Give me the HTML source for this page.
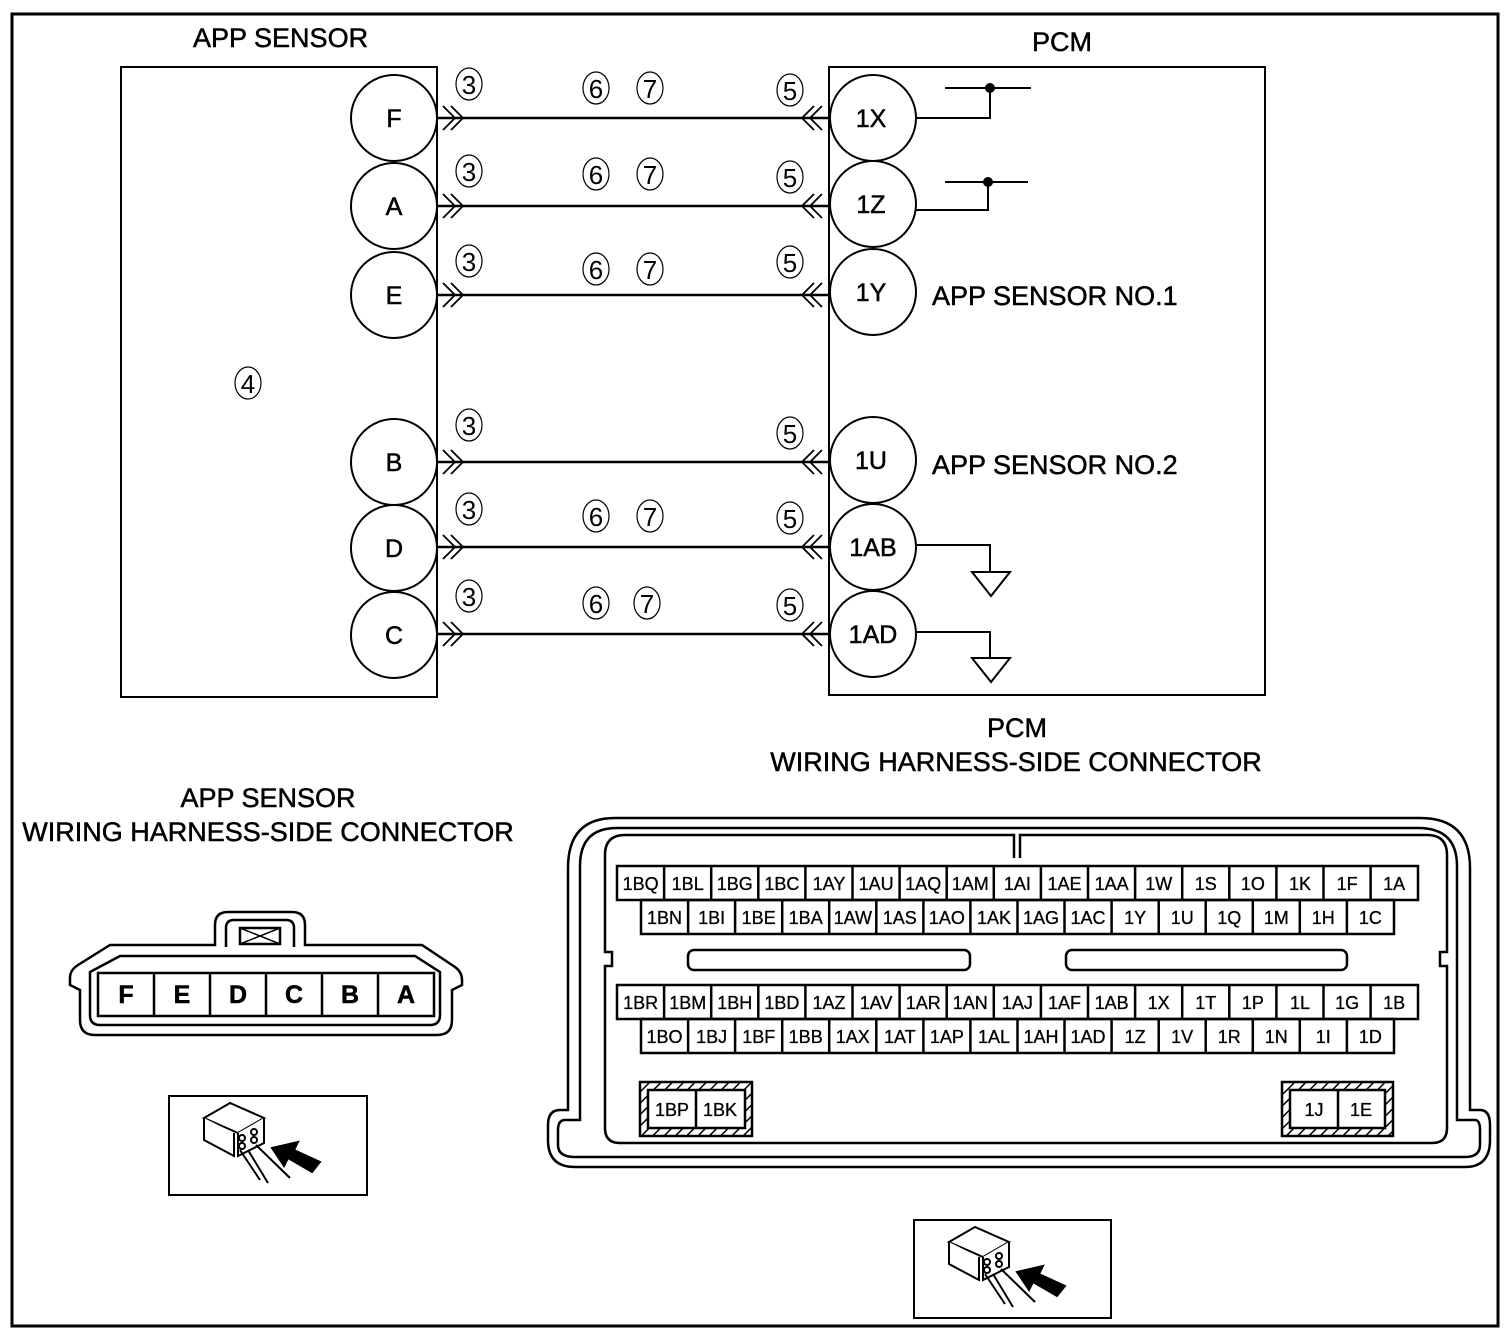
<!DOCTYPE html>
<html><head><meta charset="utf-8"><style>
html,body{margin:0;padding:0;background:#fff}
svg{display:block}
text{font-family:"Liberation Sans",sans-serif;fill:#000}
.t{font-size:27px;stroke:#000;stroke-width:0.5}
.c{font-size:25px;text-anchor:middle;stroke:#000;stroke-width:0.5}
.k{font-size:18px;text-anchor:middle;stroke:#000;stroke-width:0.3}
.n{font-size:26px;text-anchor:middle}
</style></head><body>
<svg width="1510" height="1334" viewBox="0 0 1510 1334" xmlns="http://www.w3.org/2000/svg">
<defs>
<g id="num3"><ellipse cx="0" cy="0" rx="13" ry="16" fill="none" stroke="#000" stroke-width="1.2"/><text class="n" y="10">3</text></g>
<g id="num5"><ellipse cx="0" cy="0" rx="13" ry="16" fill="none" stroke="#000" stroke-width="1.2"/><text class="n" y="10">5</text></g>
<g id="num6"><ellipse cx="0" cy="0" rx="13" ry="16" fill="none" stroke="#000" stroke-width="1.2"/><text class="n" y="10">6</text></g>
<g id="num7"><ellipse cx="0" cy="0" rx="13" ry="16" fill="none" stroke="#000" stroke-width="1.2"/><text class="n" y="10">7</text></g>
<g id="num4"><ellipse cx="0" cy="0" rx="13" ry="16" fill="none" stroke="#000" stroke-width="1.2"/><text class="n" y="10">4</text></g>
<pattern id="hat" width="8" height="8" patternUnits="userSpaceOnUse" patternTransform="rotate(45)"><rect width="8" height="8" fill="#fff"/><line x1="0" y1="0" x2="0" y2="8" stroke="#000" stroke-width="3"/></pattern>
</defs>
<rect x="12" y="14" width="1486" height="1312" fill="none" stroke="#000" stroke-width="3"/>

<text class="t" x="193" y="47">APP SENSOR</text>
<text class="t" x="1032" y="51">PCM</text>
<rect x="121" y="67" width="316" height="630" fill="none" stroke="#000" stroke-width="2"/>
<rect x="829" y="67" width="436" height="628" fill="none" stroke="#000" stroke-width="2"/>

<g stroke="#000" stroke-width="2.5" fill="none">
<line x1="437" y1="118" x2="829" y2="118"/>
<line x1="437" y1="206" x2="829" y2="206"/>
<line x1="437" y1="295" x2="829" y2="295"/>
<line x1="437" y1="462" x2="829" y2="462"/>
<line x1="437" y1="547" x2="829" y2="547"/>
<line x1="437" y1="634" x2="829" y2="634"/>
</g>
<g fill="#fff" stroke="#000" stroke-width="2">
<circle cx="394" cy="118" r="43"/><circle cx="394" cy="206" r="43"/><circle cx="394" cy="295" r="43"/>
<circle cx="394" cy="462" r="43"/><circle cx="394" cy="548" r="43"/><circle cx="394" cy="635" r="43"/>
<circle cx="873" cy="118" r="43"/><circle cx="873" cy="204" r="43"/><circle cx="873" cy="292" r="43"/>
<circle cx="873" cy="460" r="43"/><circle cx="873" cy="547" r="43"/><circle cx="873" cy="634" r="43"/>
</g>
<text class="c" x="394" y="127">F</text><text class="c" x="394" y="215">A</text><text class="c" x="394" y="304">E</text>
<text class="c" x="394" y="471">B</text><text class="c" x="394" y="557">D</text><text class="c" x="394" y="644">C</text>
<text class="c" x="871" y="127">1X</text><text class="c" x="871" y="213">1Z</text><text class="c" x="871" y="301">1Y</text>
<text class="c" x="871" y="469">1U</text><text class="c" x="873" y="556">1AB</text><text class="c" x="873" y="643">1AD</text>
<g stroke="#000" stroke-width="1.8" fill="none">
<path d="M443,106 L455,118 L443,130 M451,106 L463,118 L451,130"/>
<path d="M443,194 L455,206 L443,218 M451,194 L463,206 L451,218"/>
<path d="M443,283 L455,295 L443,307 M451,283 L463,295 L451,307"/>
<path d="M443,450 L455,462 L443,474 M451,450 L463,462 L451,474"/>
<path d="M443,535 L455,547 L443,559 M451,535 L463,547 L451,559"/>
<path d="M443,622 L455,634 L443,646 M451,622 L463,634 L451,646"/>
<path d="M822,106 L810,118 L822,130 M814,106 L802,118 L814,130"/>
<path d="M822,194 L810,206 L822,218 M814,194 L802,206 L814,218"/>
<path d="M822,283 L810,295 L822,307 M814,283 L802,295 L814,307"/>
<path d="M822,450 L810,462 L822,474 M814,450 L802,462 L814,474"/>
<path d="M822,535 L810,547 L822,559 M814,535 L802,547 L814,559"/>
<path d="M822,622 L810,634 L822,646 M814,622 L802,634 L814,646"/>
</g>
<use href="#num3" x="469" y="84"/><use href="#num6" x="596" y="88"/><use href="#num7" x="650" y="88"/><use href="#num5" x="790" y="90"/>
<use href="#num3" x="469" y="171"/><use href="#num6" x="596" y="174"/><use href="#num7" x="650" y="174"/><use href="#num5" x="790" y="177"/>
<use href="#num3" x="469" y="261"/><use href="#num6" x="596" y="269"/><use href="#num7" x="650" y="269"/><use href="#num5" x="790" y="262"/>
<use href="#num3" x="469" y="425"/><use href="#num5" x="790" y="433"/>
<use href="#num3" x="469" y="509"/><use href="#num6" x="596" y="516"/><use href="#num7" x="650" y="516"/><use href="#num5" x="790" y="518"/>
<use href="#num3" x="469" y="596"/><use href="#num6" x="596" y="603"/><use href="#num7" x="647" y="603"/><use href="#num5" x="790" y="605"/>
<use href="#num4" x="248" y="383"/>

<g stroke="#000" stroke-width="2" fill="none">
<path d="M916,118 H990 V88 M945,88 H1031"/>
<path d="M916,210 H988 V182 M945,182 H1028"/>
<path d="M916,545 H990 V572 M972,572 H1010 L991,596 Z"/>
<path d="M916,632 H990 V658 M972,658 H1010 L991,682 Z"/>
</g>
<circle cx="990" cy="88" r="5"/><circle cx="988" cy="182" r="5"/>
<text class="t" x="932" y="305">APP SENSOR NO.1</text>
<text class="t" x="932" y="474">APP SENSOR NO.2</text>

<text class="t" x="1017" y="737" text-anchor="middle">PCM</text>
<text class="t" x="1016" y="771" text-anchor="middle">WIRING HARNESS-SIDE CONNECTOR</text>
<text class="t" x="268" y="807" text-anchor="middle">APP SENSOR</text>
<text class="t" x="268" y="841" text-anchor="middle">WIRING HARNESS-SIDE CONNECTOR</text>

<!-- APP connector -->
<g stroke="#000" stroke-width="2.5" fill="none">
<path d="M215,945 V925 Q215,912 228,912 H292 Q305,912 305,925 V945 H422 L455,967 Q462,972 462,980 V985 L452,990 V1020 Q452,1035 437,1035 H95 Q80,1035 80,1020 V990 L70,985 V978 Q70,970 78,965 L110,945 Z"/>
<path d="M226,947 V928 Q226,920 234,920 H286 Q294,920 294,928 V947"/>
<path d="M120,956 H415 L440,972 V1015 Q440,1025 430,1025 H100 Q90,1025 90,1015 V972 Z"/>
<rect x="98" y="973" width="336" height="43"/>
<path d="M154,973 V1016 M210,973 V1016 M266,973 V1016 M322,973 V1016 M378,973 V1016"/>
<rect x="240" y="928" width="40" height="16"/>
<path d="M240,928 L280,944 M280,928 L240,944" stroke-width="1.5"/>
</g>
<text class="c" x="126" y="1003" font-weight="bold">F</text><text class="c" x="182" y="1003" font-weight="bold">E</text><text class="c" x="238" y="1003" font-weight="bold">D</text><text class="c" x="294" y="1003" font-weight="bold">C</text><text class="c" x="350" y="1003" font-weight="bold">B</text><text class="c" x="406" y="1003" font-weight="bold">A</text>

<!-- icons -->
<g stroke="#000" stroke-width="2" fill="none">
<rect x="169" y="1096" width="198" height="99"/>
<rect x="914" y="1220" width="197" height="98"/>
</g>
<g id="ic" stroke="#000" stroke-width="2" fill="#fff">
<path d="M204,1118 L230,1103 L264,1118 L238,1133 Z"/>
<path d="M204,1118 V1140 L234,1156 V1133"/>
<path d="M238,1133 V1156 L264,1143 V1118"/>
<circle cx="242" cy="1138" r="3"/><circle cx="254" cy="1132" r="3"/><circle cx="242" cy="1146" r="3"/><circle cx="254" cy="1140" r="3"/>
<path d="M240,1150 L260,1180 M248,1150 L268,1183 M256,1145 L290,1178" fill="none"/>
<path d="M272,1148 L298,1142 L294,1150 L320,1162 L312,1172 L288,1158 L284,1166 Z" fill="#000"/>
</g>
<use href="#ic" x="745" y="124"/>

<!-- PCM connector -->
<g stroke="#000" stroke-width="2.5" fill="none">
<path d="M615,818 H1420 Q1470,818 1470,868 V1110 H1480 Q1490,1110 1490,1125 V1140 Q1490,1167 1465,1167 H575 Q548,1167 548,1140 V1125 Q548,1110 560,1110 H568 V868 Q568,818 615,818 Z"/>
<path d="M617,828 H1418 Q1457,828 1457,866 V1120 H1475 Q1480,1120 1480,1130 V1145 Q1480,1157 1465,1157 H575 Q558,1157 558,1145 V1130 Q558,1120 565,1120 H580 V866 Q580,828 617,828 Z"/>
<path d="M1014,858 V835 H625 Q605,835 605,855 V952 H612 V966 H605 V1128 Q605,1143 620,1143 H1432 Q1447,1143 1447,1128 V966 H1440 V952 H1447 V855 Q1447,835 1427,835 H1020 V858"/>
<rect x="688" y="950" width="282" height="20" rx="6"/>
<rect x="1066" y="950" width="281" height="20" rx="6"/>
<rect x="617" y="866" width="801" height="34"/>
<rect x="641" y="900" width="753" height="34"/>
<rect x="617" y="985" width="801" height="34"/>
<rect x="641" y="1019" width="753" height="34"/>
<path d="M664.1,866V900M711.2,866V900M758.3,866V900M805.4,866V900M852.5,866V900M899.6,866V900M946.7,866V900M993.8,866V900M1040.9,866V900M1088,866V900M1135.1,866V900M1182.2,866V900M1229.3,866V900M1276.4,866V900M1323.5,866V900M1370.6,866V900"/>
<path d="M664.1,985V1019M711.2,985V1019M758.3,985V1019M805.4,985V1019M852.5,985V1019M899.6,985V1019M946.7,985V1019M993.8,985V1019M1040.9,985V1019M1088,985V1019M1135.1,985V1019M1182.2,985V1019M1229.3,985V1019M1276.4,985V1019M1323.5,985V1019M1370.6,985V1019"/>
<path d="M688.1,900V934M735.1,900V934M782.2,900V934M829.2,900V934M876.3,900V934M923.4,900V934M970.4,900V934M1017.5,900V934M1064.5,900V934M1111.6,900V934M1158.7,900V934M1205.7,900V934M1252.8,900V934M1299.8,900V934M1346.9,900V934"/>
<path d="M688.1,1019V1053M735.1,1019V1053M782.2,1019V1053M829.2,1019V1053M876.3,1019V1053M923.4,1019V1053M970.4,1019V1053M1017.5,1019V1053M1064.5,1019V1053M1111.6,1019V1053M1158.7,1019V1053M1205.7,1019V1053M1252.8,1019V1053M1299.8,1019V1053M1346.9,1019V1053"/>
<rect x="640" y="1082" width="112" height="54" fill="url(#hat)"/>
<rect x="1282" y="1082" width="111" height="54" fill="url(#hat)"/>
<rect x="648" y="1090" width="97" height="38" fill="#fff"/>
<rect x="1290" y="1090" width="95" height="38" fill="#fff"/>
<path d="M696,1090V1128M1338,1090V1128"/>
</g>
<text class="k" y="890"><tspan x="640.6">1BQ</tspan><tspan x="687.7">1BL</tspan><tspan x="734.8">1BG</tspan><tspan x="781.9">1BC</tspan><tspan x="829">1AY</tspan><tspan x="876.1">1AU</tspan><tspan x="923.2">1AQ</tspan><tspan x="970.3">1AM</tspan><tspan x="1017.4">1AI</tspan><tspan x="1064.5">1AE</tspan><tspan x="1111.6">1AA</tspan><tspan x="1158.7">1W</tspan><tspan x="1205.8">1S</tspan><tspan x="1252.9">1O</tspan><tspan x="1300">1K</tspan><tspan x="1347.1">1F</tspan><tspan x="1394.2">1A</tspan></text>
<text class="k" y="924"><tspan x="664.5">1BN</tspan><tspan x="711.6">1BI</tspan><tspan x="758.7">1BE</tspan><tspan x="805.7">1BA</tspan><tspan x="852.8">1AW</tspan><tspan x="899.8">1AS</tspan><tspan x="946.9">1AO</tspan><tspan x="994">1AK</tspan><tspan x="1041">1AG</tspan><tspan x="1088">1AC</tspan><tspan x="1135.1">1Y</tspan><tspan x="1182.2">1U</tspan><tspan x="1229.2">1Q</tspan><tspan x="1276.3">1M</tspan><tspan x="1323.3">1H</tspan><tspan x="1370.4">1C</tspan></text>
<text class="k" y="1009"><tspan x="640.6">1BR</tspan><tspan x="687.7">1BM</tspan><tspan x="734.8">1BH</tspan><tspan x="781.9">1BD</tspan><tspan x="829">1AZ</tspan><tspan x="876.1">1AV</tspan><tspan x="923.2">1AR</tspan><tspan x="970.3">1AN</tspan><tspan x="1017.4">1AJ</tspan><tspan x="1064.5">1AF</tspan><tspan x="1111.6">1AB</tspan><tspan x="1158.7">1X</tspan><tspan x="1205.8">1T</tspan><tspan x="1252.9">1P</tspan><tspan x="1300">1L</tspan><tspan x="1347.1">1G</tspan><tspan x="1394.2">1B</tspan></text>
<text class="k" y="1043"><tspan x="664.5">1BO</tspan><tspan x="711.6">1BJ</tspan><tspan x="758.7">1BF</tspan><tspan x="805.7">1BB</tspan><tspan x="852.8">1AX</tspan><tspan x="899.8">1AT</tspan><tspan x="946.9">1AP</tspan><tspan x="994">1AL</tspan><tspan x="1041">1AH</tspan><tspan x="1088">1AD</tspan><tspan x="1135.1">1Z</tspan><tspan x="1182.2">1V</tspan><tspan x="1229.2">1R</tspan><tspan x="1276.3">1N</tspan><tspan x="1323.3">1I</tspan><tspan x="1370.4">1D</tspan></text>
<text class="k" y="1116"><tspan x="672">1BP</tspan><tspan x="720">1BK</tspan><tspan x="1314">1J</tspan><tspan x="1361">1E</tspan></text>
</svg>
</body></html>
